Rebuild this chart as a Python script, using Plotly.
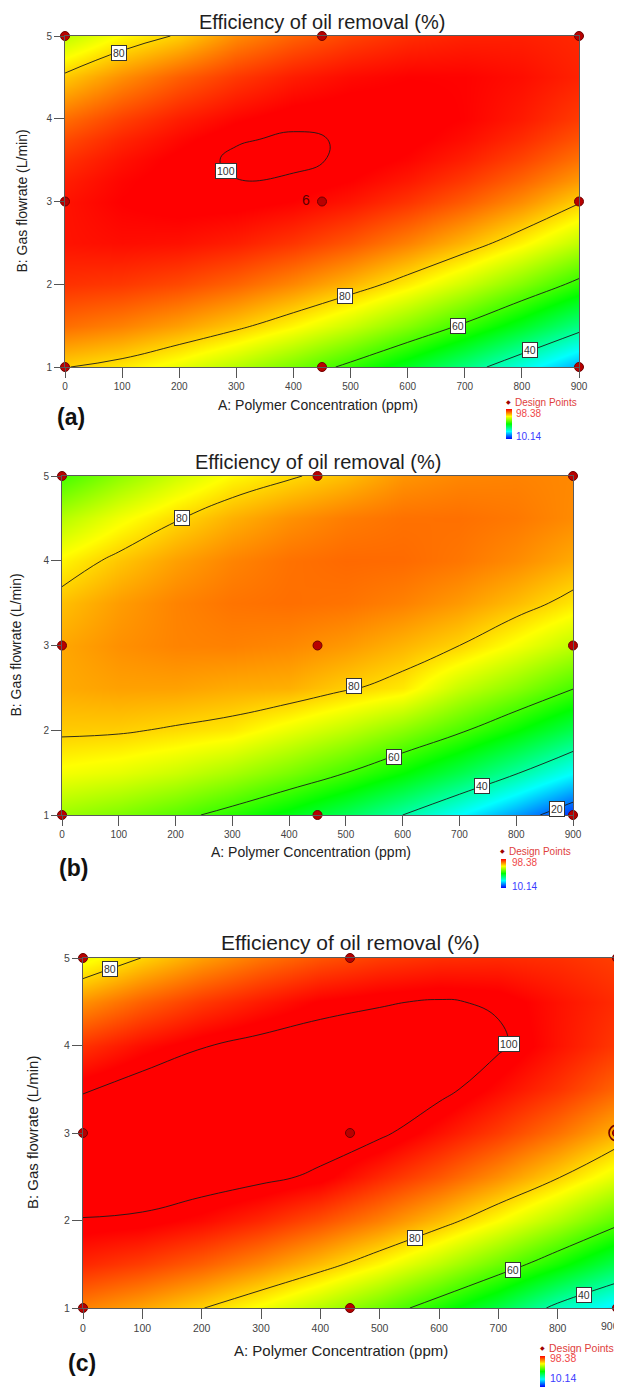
import plotly.graph_objects as go

# window size and the browser's default page margin around the figure
WIN_W, WIN_H = 622, 1387
PAGE_OFF = 8
W, H = WIN_W - PAGE_OFF, WIN_H - PAGE_OFF

# ---------------- data ----------------
X_PPM = [0, 100, 200, 300, 400, 500, 600, 700, 800, 900]
Y_FLOW_A = [1.0, 1.5, 2.0, 2.5, 3.0, 3.25, 3.5, 3.75, 4.0, 4.5, 5.0]
Y_FLOW = [1.0, 1.5, 2.0, 2.5, 3.0, 3.5, 4.0, 4.5, 5.0]

# rows follow the Y list, columns follow X_PPM  (efficiency of oil removal, %)
Z_A = [
    [80.2, 78.18, 74.51, 69.98, 64.61, 58.38, 51.31, 43.39, 34.62, 25.0],
    [88.89, 87.18, 84.62, 81.21, 76.96, 71.85, 65.9, 59.1, 51.44, 42.94],
    [94.15, 93.56, 92.12, 89.83, 86.69, 82.7, 77.86, 72.17, 65.64, 58.25],
    [96.79, 97.31, 96.99, 95.81, 93.79, 90.92, 87.2, 82.63, 77.21, 70.94],
    [96.8, 98.44, 99.24, 99.18, 98.27, 96.52, 93.91, 90.46, 86.15, 80.5],
    [95.82, 98.02, 99.37, 99.95, 99.7, 98.33, 96.28, 93.38, 89.64, 85.04],
    [94.19, 96.94, 99.0, 100.4, 100.5, 99.6, 98.0, 95.66, 92.47, 88.44],
    [91.89, 95.21, 97.68, 99.8, 100.3, 99.8, 99.05, 97.28, 94.65, 91.17],
    [88.95, 92.83, 95.85, 98.03, 99.5, 99.83, 99.46, 98.24, 96.17, 93.25],
    [81.09, 86.08, 90.22, 93.51, 95.96, 97.55, 98.3, 98.19, 97.24, 95.44],
    [70.6, 76.71, 80.6, 86.38, 89.94, 92.65, 94.51, 95.52, 95.69, 95.0],
]
Z_B = [
    [67.68, 65.2, 61.87, 57.68, 52.64, 46.75, 40.0, 32.39, 23.94, 14.62],
    [75.51, 74.14, 71.9, 68.82, 64.88, 60.09, 54.44, 47.94, 40.58, 32.37],
    [80.84, 80.57, 79.44, 78.2, 74.62, 70.93, 66.38, 60.98, 54.73, 47.62],
    [83.65, 84.48, 84.46, 83.58, 83.2, 80.6, 78.2, 71.52, 66.38, 60.37],
    [83.98, 85.91, 86.99, 87.22, 86.59, 85.1, 82.76, 80.0, 75.52, 70.62],
    [81.81, 84.85, 87.03, 88.35, 88.82, 88.44, 87.21, 85.12, 82.17, 78.37],
    [77.14, 81.27, 84.56, 86.99, 88.56, 89.28, 89.15, 88.16, 86.32, 83.63],
    [69.95, 75.19, 79.58, 83.11, 85.79, 87.62, 88.59, 88.7, 87.96, 86.37],
    [60.28, 66.63, 72.11, 76.75, 79.4, 82.0, 85.53, 86.75, 87.11, 86.62],
]
Z_C = [
    [87.14, 84.09, 80.22, 75.52, 70.0, 63.65, 56.48, 48.48, 38.0, 30.02],
    [95.05, 93.05, 90.22, 86.57, 82.1, 76.8, 70.67, 63.72, 55.95, 47.35],
    [99.8, 99.31, 97.53, 94.93, 91.5, 87.24, 82.16, 76.25, 69.53, 61.97],
    [102.77, 102.86, 102.13, 101.0, 99.3, 94.97, 90.94, 86.08, 80.4, 73.89],
    [102.58, 103.72, 104.03, 103.52, 102.18, 100.8, 97.03, 93.22, 88.58, 83.12],
    [99.69, 101.87, 103.23, 103.77, 103.48, 102.36, 101.2, 97.65, 94.07, 89.65],
    [94.11, 97.33, 99.74, 101.32, 102.07, 102.0, 101.11, 100.6, 96.84, 93.48],
    [85.81, 90.09, 93.53, 96.16, 98.6, 99.7, 100.3, 99.6, 96.91, 94.59],
    [74.82, 80.14, 84.64, 88.31, 91.16, 93.18, 94.38, 94.75, 94.3, 93.02],
]

DESIGN_X = [0, 450, 900, 0, 450, 900, 0, 450, 900]
DESIGN_Y = [1, 1, 1, 3, 3, 3, 5, 5, 5]

X_TICKS = [0, 100, 200, 300, 400, 500, 600, 700, 800, 900]
Y_TICKS = [1, 2, 3, 4, 5]

Z_MIN, Z_MAX = 10.14, 98.38
LEVEL_START, LEVEL_END, LEVEL_STEP = 20, 100, 20

TITLE = "Efficiency of oil removal (%)"
X_TITLE = "A: Polymer Concentration (ppm)"
Y_TITLE = "B: Gas flowrate (L/min)"

# ---------------- layout / style ----------------
COLORSCALE = [[0.0, "rgb(0,0,255)"], [0.25, "rgb(0,255,255)"], [0.5, "rgb(0,255,0)"],
              [0.75, "rgb(255,255,0)"], [1.0, "rgb(255,0,0)"]]
FONT = "Arial, Liberation Sans, sans-serif"

# pixel positions are given in window coordinates
panels = [
    dict(y=Y_FLOW_A, z=Z_A, box=(65, 36, 579, 367), tag="(a)", tag_xy=(71, 417), xtitle_xy=(318, 405),
         ytitle_x=22, title_y=22, tfs=20, afs=14, tkfs=10,
         legend=dict(diamond=(508, 402), bar=(506, 409, 512, 439), top=(514, 413), bot=(514, 436), fs=10),
         labels=[(95, 4.79, "80"), (282, 3.37, "100"), (490, 1.855, "80"), (688, 1.5, "60"), (815, 1.2, "40")],
         six=True, ring=False, edge_tick=None),
    dict(y=Y_FLOW, z=Z_B, box=(62, 476, 573, 815), tag="(b)", tag_xy=(73, 868), xtitle_xy=(311, 852),
         ytitle_x=16, title_y=462, tfs=20, afs=14, tkfs=10,
         legend=dict(diamond=(502, 851), bar=(501, 859, 506, 888), top=(510, 862), bot=(510, 886), fs=10),
         labels=[(212, 4.5, "80"), (515, 2.52, "80"), (585, 1.69, "60"), (740, 1.34, "40"), (872, 1.07, "20")],
         six=False, ring=False, edge_tick=None),
    dict(y=Y_FLOW, z=Z_C, box=(83, 958, 617, 1308), tag="(c)", tag_xy=(82, 1363), xtitle_xy=(341, 1350),
         ytitle_x=32, title_y=943, tfs=21, afs=15, tkfs=10.5,
         legend=dict(diamond=(542, 1348), bar=(540, 1356, 545, 1387), top=(548, 1358), bot=(548, 1378), fs=10.5),
         labels=[(45, 4.88, "80"), (718, 4.02, "100"), (560, 1.8, "80"), (725, 1.44, "60"), (845, 1.15, "40")],
         six=False, ring=True, edge_tick=(621, 1326)),
]


def px(x):
    return (x - PAGE_OFF) / W


def py(y):
    return 1 - (y - PAGE_OFF) / H


fig = go.Figure()
annotations = []
layout_axes = {}

for i, p in enumerate(panels):
    n = "" if i == 0 else str(i + 1)
    xa, ya = "x" + n, "y" + n
    l, t, r, b = p["box"]
    lg = p["legend"]
    bl, bt, br, bb = lg["bar"]

    fig.add_trace(go.Contour(
        x=X_PPM, y=p["y"], z=p["z"], xaxis=xa, yaxis=ya,
        colorscale=COLORSCALE, zmin=Z_MIN, zmax=Z_MAX, zauto=False,
        contours=dict(coloring="heatmap", start=LEVEL_START, end=LEVEL_END, size=LEVEL_STEP,
                      showlabels=False),
        line=dict(color="#1a1a1a", width=0.9, smoothing=1.3),
        showscale=False,
        hoverinfo="skip",
    ))
    # continuous colour key (legend bar)
    fig.add_trace(go.Scatter(
        x=[None, None], y=[None, None], xaxis=xa, yaxis=ya, mode="markers",
        marker=dict(color=[Z_MIN, Z_MAX], cmin=Z_MIN, cmax=Z_MAX, colorscale=COLORSCALE,
                    showscale=True,
                    colorbar=dict(x=px(bl), xanchor="left", xpad=0, y=py(bt), yanchor="top", ypad=0,
                                  len=bb - bt, lenmode="pixels", thickness=br - bl,
                                  thicknessmode="pixels", outlinewidth=0, showticklabels=False,
                                  ticks="")),
        showlegend=False, hoverinfo="skip"))
    if p["ring"]:
        fig.add_trace(go.Scatter(
            x=[DESIGN_X[5]], y=[DESIGN_Y[5]], xaxis=xa, yaxis=ya, mode="markers",
            marker=dict(symbol="circle-open", size=16, color="#6e0000", line=dict(width=1.6)),
            cliponaxis=False, showlegend=False, hoverinfo="skip"))
    fig.add_trace(go.Scatter(
        x=DESIGN_X, y=DESIGN_Y, xaxis=xa, yaxis=ya, mode="markers",
        marker=dict(symbol="circle", size=9, color="#b80000", line=dict(color="#6e0000", width=1)),
        cliponaxis=False, showlegend=False, hoverinfo="skip"))

    tickfont = dict(family=FONT, size=p["tkfs"], color="#444")
    axis_common = dict(showgrid=False, zeroline=False, showline=True, mirror=True,
                       linecolor="#5a5a5a", linewidth=1, ticks="outside", ticklen=10,
                       tickwidth=1, tickcolor="#555", automargin=False, ticklabeloverflow="allow",
                       tickfont=tickfont)
    xtext = [str(v) for v in X_TICKS]
    if p["edge_tick"]:
        # last label sits at the page edge: drawn right-aligned so it stays readable
        xtext[-1] = ""
        annotations.append(dict(text=str(X_TICKS[-1]), x=px(p["edge_tick"][0]), y=py(p["edge_tick"][1]),
                                xref="paper", yref="paper", showarrow=False, xanchor="right",
                                yanchor="middle", font=tickfont))
    layout_axes["xaxis" + n] = dict(domain=[px(l), px(r)], anchor=ya, range=[0, 900],
                                    tickvals=X_TICKS, ticktext=xtext, **axis_common)
    layout_axes["yaxis" + n] = dict(domain=[py(b), py(t)], anchor=xa, range=[1, 5],
                                    tickvals=Y_TICKS, **axis_common)

    # titles
    annotations.append(dict(text=TITLE, x=px((l + r) / 2), y=py(p["title_y"]), xref="paper",
                            yref="paper", showarrow=False, xanchor="center", yanchor="middle",
                            font=dict(family=FONT, size=p["tfs"], color="#1e1e1e")))
    annotations.append(dict(text=X_TITLE, x=px(p["xtitle_xy"][0]), y=py(p["xtitle_xy"][1]),
                            xref="paper", yref="paper", showarrow=False, xanchor="center",
                            yanchor="middle", font=dict(family=FONT, size=p["afs"], color="#222")))
    annotations.append(dict(text=Y_TITLE, x=px(p["ytitle_x"]), y=py((t + b) / 2), xref="paper",
                            yref="paper", showarrow=False, textangle=-90, xanchor="center",
                            yanchor="middle", font=dict(family=FONT, size=p["afs"], color="#222")))
    annotations.append(dict(text="<b>%s</b>" % p["tag"], x=px(p["tag_xy"][0]), y=py(p["tag_xy"][1]),
                            xref="paper", yref="paper", showarrow=False, xanchor="center",
                            yanchor="middle", font=dict(family=FONT, size=23, color="#111")))
    # legend
    annotations.append(dict(text="\u25c6", x=px(lg["diamond"][0]), y=py(lg["diamond"][1]),
                            xref="paper", yref="paper", showarrow=False, xanchor="center",
                            yanchor="middle", font=dict(family=FONT, size=6, color="#a00000")))
    annotations.append(dict(text="Design Points", x=px(lg["diamond"][0] + 5), y=py(lg["diamond"][1]),
                            xref="paper", yref="paper", showarrow=False, xanchor="left",
                            yanchor="middle", font=dict(family=FONT, size=lg["fs"], color="#e0403c")))
    annotations.append(dict(text="%.2f" % Z_MAX, x=px(lg["top"][0]), y=py(lg["top"][1]),
                            xref="paper", yref="paper", showarrow=False, xanchor="left",
                            yanchor="middle", font=dict(family=FONT, size=lg["fs"], color="#f04848")))
    annotations.append(dict(text="%.2f" % Z_MIN, x=px(lg["bot"][0]), y=py(lg["bot"][1]),
                            xref="paper", yref="paper", showarrow=False, xanchor="left",
                            yanchor="middle", font=dict(family=FONT, size=lg["fs"], color="#3a3aff")))
    # contour labels
    for lx, ly, txt in p["labels"]:
        annotations.append(dict(text=txt, x=lx, y=ly, xref=xa, yref=ya, showarrow=False,
                                xanchor="center", yanchor="middle", bgcolor="white",
                                bordercolor="#333", borderwidth=1, borderpad=1,
                                font=dict(family=FONT, size=10.5, color="#333")))
    if p["six"]:
        annotations.append(dict(text="6", x=DESIGN_X[4], y=DESIGN_Y[4], xref=xa, yref=ya,
                                showarrow=False, xshift=-16, yshift=1, xanchor="center",
                                yanchor="middle", font=dict(family=FONT, size=14, color="#5a0000")))

fig.update_layout(width=W, height=H, margin=dict(l=0, r=0, t=0, b=0, autoexpand=False),
                  paper_bgcolor="white", plot_bgcolor="white", showlegend=False,
                  annotations=annotations, **layout_axes)

fig.write_html("out.html")
